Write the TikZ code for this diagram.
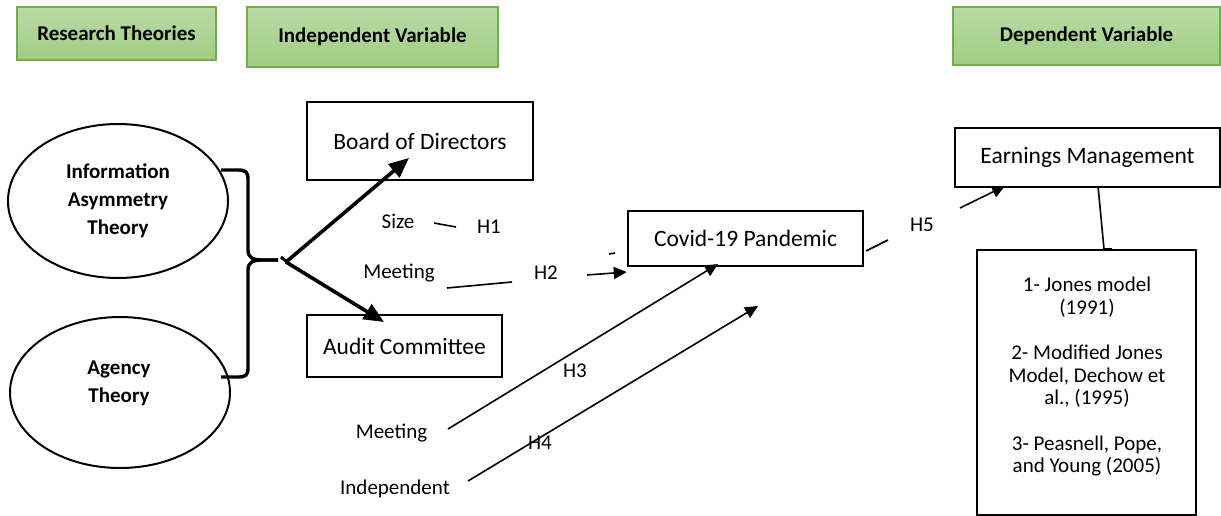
\documentclass[tikz,border=0pt]{standalone}
\usepackage{fontspec}
\setmainfont{Carlito}
\usetikzlibrary{arrows.meta,shapes.geometric}
\definecolor{hdrtop}{HTML}{BADBA5}
\definecolor{hdrbot}{HTML}{A0CC84}
\definecolor{hdredge}{HTML}{72AE4A}
\begin{document}
\begin{tikzpicture}[x=1pt,y=-1pt,
  hdr/.style={draw=hdredge,line width=2pt,top color=hdrtop,bottom color=hdrbot,
    font=\fontsize{21}{24}\selectfont\bfseries,inner sep=0pt},
  theory/.style={ellipse,draw,line width=2pt,inner sep=0pt,
    font=\fontsize{21}{28}\selectfont\bfseries,align=center},
  varbox/.style={draw,line width=2.4pt,inner sep=0pt,font=\fontsize{23.5}{28}\selectfont},
  lbl/.style={font=\fontsize{21}{25}\selectfont,inner sep=0pt},
  thickarrow/.style={line width=3.6pt,-{Triangle[length=20pt,width=17pt]}},
  thinarrow/.style={line width=1.6pt,-{Triangle[length=13pt,width=12pt]}},
  thinline/.style={line width=1.6pt},
  bracepath/.style={line width=3.4pt,line join=round}
]
\useasboundingbox (0,0) rectangle (1221,515);
% headers
\node[hdr,minimum width=199pt,minimum height=53pt] (rt) at (116.5,33.5) {Research Theories};
\node[hdr,minimum width=251pt,minimum height=60pt] (iv) at (372.5,37) {Independent Variable};
\node[hdr,minimum width=267pt,minimum height=58pt] (dv) at (1086.5,36) {Dependent Variable};
% theories
\node[theory,minimum width=220pt,minimum height=154pt] (e1) at (118,201) {Information\\Asymmetry\\Theory};
\node[theory,minimum width=220pt,minimum height=151pt] (e2) at (120,392.5) {};
\node[theory,draw=none,minimum width=0pt,minimum height=0pt] (e2t) at (119,383) {Agency\\Theory};
% brace
\coordinate (bt) at (221,170);
\coordinate (bm) at (278,260);
\coordinate (bb) at (221,377);
\draw[bracepath] (bt) -- (238,170) .. controls (246,170) and (248,172) .. (248,180)
  -- (248,250) .. controls (248,257) and (252,260) .. (262,260) -- (bm);
\draw[bracepath] (bm) -- (262,260) .. controls (252,260) and (248,263) .. (248,270)
  -- (248,368) .. controls (248,375) and (246,377) .. (238,377) -- (bb);
% independent variables
\node[varbox,minimum width=226pt,minimum height=78pt] (bod) at (420,141) {Board of Directors};
\node[varbox,minimum width=195pt,minimum height=62pt] (ac) at (404.5,346) {Audit Committee};
\node[varbox,minimum width=235pt,minimum height=55pt] (cov) at (745.5,238.5) {Covid-19 Pandemic};
\node[varbox,minimum width=265pt,minimum height=59pt] (em) at (1087.5,157.5) {Earnings Management};
\node[varbox,minimum width=219pt,minimum height=265pt] (mb) at (1086.5,382.5) {};
\node[lbl,align=center,font=\fontsize{21}{22.5}\selectfont] (mbt) at (1087,377)
  {1- Jones model\\(1991)\\[23pt]2- Modified Jones\\Model, Dechow et\\al., (1995)\\[23pt]3- Peasnell, Pope,\\and Young (2005)};
% junction and thick arrows
\coordinate (j) at (286,262);
\coordinate (bodtip) at (409,158);
\coordinate (actip) at (384,322);
\draw[line width=3pt] (bm) ++(3,-3) -- ++(6,5);
\draw[thickarrow] (j) -- (bodtip);
\draw[thickarrow] (j) -- (actip);
% labels
\node[lbl] (size) at (398,221) {Size};
\node[lbl] (h1) at (489,227) {H1};
\node[lbl] (meet1) at (399,273) {Meeting};
\node[lbl] (h2) at (546,273) {H2};
\node[lbl] (meet2) at (391.5,433) {Meeting};
\node[lbl] (indep) at (395,489) {Independent};
\node[lbl] (h3) at (575,371) {H3};
\node[lbl] (h4) at (540,443) {H4};
\node[lbl] (h5) at (922,225) {H5};
% connectors
\coordinate (s1) at (434,223); \coordinate (s2) at (456,227);
\draw[thinline] (s1) -- (s2);
\coordinate (m1) at (447,288); \coordinate (m2) at (512,282);
\draw[thinline] (m1) -- (m2);
\coordinate (h2s) at (587,275);
\draw[thinarrow] (h2s) -- (cov.west |- 0,272);
\coordinate (tk1) at (609,254); \coordinate (tk2) at (615,253);
\draw[thinline] (tk1) -- (tk2);
\coordinate (h3s) at (448,429); \coordinate (h3e) at (718,264);
\draw[thinarrow] (h3s) -- (h3e);
\coordinate (h4s) at (468,481); \coordinate (h4e) at (758,306);
\draw[thinarrow] (h4s) -- (h4e);
\coordinate (h5a) at (866,251); \coordinate (h5b) at (888,240);
\draw[thinline] (h5a) -- (h5b);
\coordinate (h5s) at (960,208); \coordinate (h5e) at (1005,186);
\draw[thinarrow] (h5s) -- (h5e);
\coordinate (emb) at (1098,186);
\draw[thinline] (emb) -- (1104,249) -- (1112,249);
\end{tikzpicture}
\end{document}
